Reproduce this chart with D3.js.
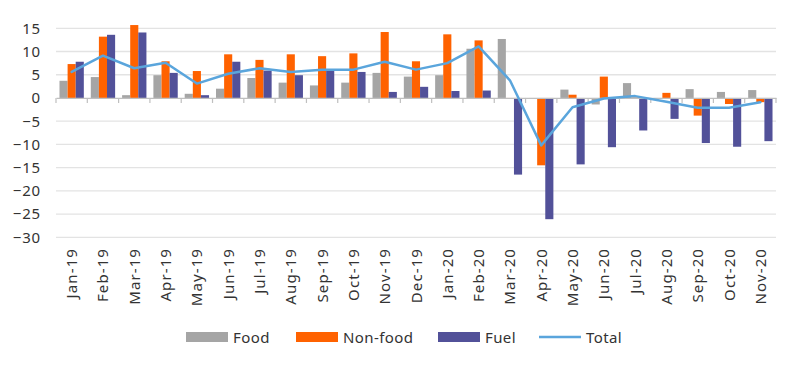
<!DOCTYPE html>
<html><head><meta charset="utf-8">
<script src="https://cdn.jsdelivr.net/npm/d3@7"></script>
<style>body{margin:0;background:#fff}svg{display:block;font-family:"Noto Sans",sans-serif}</style>
</head><body><svg id="c" width="800" height="368"></svg>
<script>
const categories = ["Jan-19","Feb-19","Mar-19","Apr-19","May-19","Jun-19","Jul-19","Aug-19","Sep-19","Oct-19","Nov-19","Dec-19","Jan-20","Feb-20","Mar-20","Apr-20","May-20","Jun-20","Jul-20","Aug-20","Sep-20","Oct-20","Nov-20"];
const food    = [3.7,4.5,0.6,4.9,0.9,2.0,4.3,3.3,2.7,3.3,5.4,4.6,4.9,10.6,12.7,-0.2,1.8,-1.4,3.2,-0.2,1.9,1.3,1.7];
const nonfood = [7.3,13.2,15.7,7.9,5.8,9.4,8.2,9.4,9.0,9.6,14.2,7.9,13.7,12.4,-0.1,-14.5,0.7,4.6,0.1,1.1,-3.8,-1.3,-0.9];
const fuel    = [7.8,13.6,14.1,5.4,0.6,7.8,5.9,4.9,5.9,5.6,1.3,2.4,1.5,1.6,-16.5,-26.1,-14.3,-10.6,-7.0,-4.5,-9.7,-10.5,-9.3];
const total   = [5.6,9.1,6.4,7.6,3.1,5.2,6.4,5.6,6.1,6.1,7.8,6.1,7.5,11.1,3.8,-10.2,-2.0,-0.1,0.4,-0.8,-2.1,-2.1,-0.9];
const yTicks  = [15,10,5,0,-5,-10,-15,-20,-25,-30];
const seriesNames = ["Food","Non-food","Fuel","Total"];
const colors = {"Food":"#a5a5a5","Non-food":"#ff6200","Fuel":"#525199","Total":"#5aa5dc"};

const svg = d3.select("#c");
const pL = 56, pR = 776, pT = 28.3, pB = 237.3;
const y = d3.scaleLinear().domain([15,-30]).range([pT,pB]);
const x = d3.scaleBand().domain(categories).range([pL,pR]).paddingInner(0).paddingOuter(0);
const sub = d3.scaleBand().domain(["Food","Non-food","Fuel"]).range([0,x.bandwidth()]).paddingInner(0).paddingOuter(0.43);

// grid
svg.append("g").selectAll("line").data(yTicks.filter(d=>d!==0)).join("line")
  .attr("x1",pL).attr("x2",pR).attr("y1",d=>y(d)).attr("y2",d=>y(d))
  .attr("stroke","#e3e3e3").attr("stroke-width",1.3);

// y labels
const yAxis = d3.axisLeft(y).tickValues(yTicks).tickSize(0).tickPadding(0).tickFormat(d3.format("d"));
const ya = svg.append("g").attr("transform",`translate(41,0)`).call(yAxis);
ya.select(".domain").remove();
ya.selectAll("text").attr("font-size",15).attr("letter-spacing",0.8).attr("fill","#333").attr("font-family","Noto Sans");

// bars
const data = {"Food":food,"Non-food":nonfood,"Fuel":fuel};
for (const s of ["Food","Non-food","Fuel"]) {
  svg.append("g").selectAll("rect").data(categories).join("rect")
    .attr("x",(c)=>x(c)+sub(s))
    .attr("width",sub.bandwidth())
    .attr("y",(c,i)=>y(Math.max(0,data[s][i])))
    .attr("height",(c,i)=>Math.abs(y(data[s][i])-y(0)))
    .attr("fill",colors[s]);
}

// x axis at zero
const xAxis = d3.axisBottom(x).tickSize(0).tickFormat("");
const xa = svg.append("g").attr("transform",`translate(0,${y(0)})`).call(xAxis);
xa.select(".domain").attr("stroke","#bfbfbf").attr("stroke-width",1.2);
svg.append("g").selectAll("line").data(d3.range(categories.length+1)).join("line")
  .attr("x1",i=>pL+i*x.step()).attr("x2",i=>pL+i*x.step())
  .attr("y1",y(0)).attr("y2",y(0)+5).attr("stroke","#bfbfbf").attr("stroke-width",1.2);

// total line
const line = d3.line().x((d,i)=>x(categories[i])+x.bandwidth()/2).y(d=>y(d));
svg.append("path").datum(total).attr("d",line).attr("fill","none")
  .attr("stroke",colors["Total"]).attr("stroke-width",2.5).attr("stroke-linejoin","round").attr("stroke-linecap","round");

// x labels
svg.append("g").selectAll("text").data(categories).join("text")
  .attr("transform",c=>`translate(${x(c)+x.bandwidth()/2+5.5},248) rotate(-90)`)
  .attr("text-anchor","end").attr("font-size",15).attr("letter-spacing",1.1).attr("fill","#333").text(c=>c);

// legend
const leg = [{n:"Food",x:186},{n:"Non-food",x:296},{n:"Fuel",x:438},{n:"Total",x:539}];
const lg = svg.append("g");
leg.forEach(l=>{
  if (l.n==="Total") {
    lg.append("line").attr("x1",l.x).attr("x2",l.x+42).attr("y1",337).attr("y2",337)
      .attr("stroke",colors[l.n]).attr("stroke-width",2.5);
  } else {
    lg.append("rect").attr("x",l.x).attr("y",332).attr("width",42).attr("height",10).attr("fill",colors[l.n]);
  }
  lg.append("text").attr("x",l.x+47).attr("y",342.5).attr("font-size",15).attr("letter-spacing",0.4).attr("fill","#333").text(l.n);
});
</script></body></html>
